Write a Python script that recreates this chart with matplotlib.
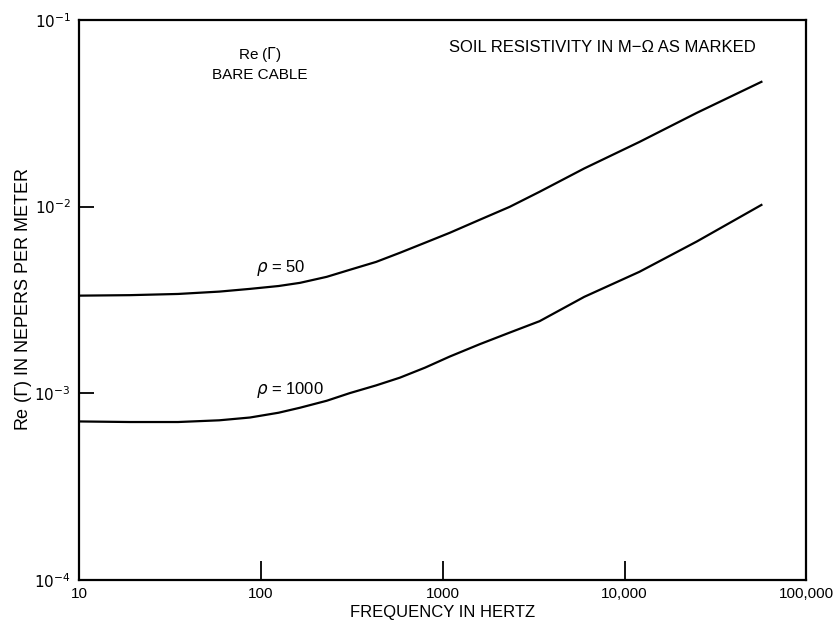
import matplotlib
matplotlib.use("Agg")
import matplotlib.pyplot as plt
from matplotlib.ticker import FixedLocator, FixedFormatter, NullLocator

plt.rcParams['font.family'] = ['Liberation Sans', 'DejaVu Sans']

# values
freq_50 = [10, 19, 35, 59, 87, 125, 164, 230, 308, 430, 581, 800, 1092,
           1600, 2333, 3410, 6000, 12080, 25000, 56600]
att_50 = [3.33e-3, 3.35e-3, 3.40e-3, 3.50e-3, 3.62e-3, 3.75e-3, 3.90e-3,
          4.20e-3, 4.58e-3, 5.05e-3, 5.65e-3, 6.40e-3, 7.23e-3,
          8.50e-3, 9.96e-3, 1.20e-2, 1.60e-2, 2.22e-2, 3.18e-2, 4.66e-2]

freq_1000 = [10, 19, 35, 59, 87, 125, 164, 230, 308, 430, 581, 800, 1092,
             1600, 2333, 3410, 6000, 12080, 25000, 56600]
att_1000 = [7.05e-4, 7.0e-4, 7.0e-4, 7.15e-4, 7.4e-4, 7.85e-4, 8.35e-4,
            9.1e-4, 1.00e-3, 1.10e-3, 1.21e-3, 1.37e-3, 1.57e-3,
            1.83e-3, 2.11e-3, 2.43e-3, 3.28e-3, 4.47e-3, 6.5e-3, 1.02e-2]

x_ticks = [10, 100, 1000, 10000, 100000]
x_labels = ["10", "100", "1000", "10,000", "100,000"]
y_ticks = [1e-4, 1e-3, 1e-2, 1e-1]
y_labels = ["$10^{-4}$", "$10^{-3}$", "$10^{-2}$", "$10^{-1}$"]

fig = plt.figure(figsize=(8.33, 6.24), dpi=100)
ax = fig.add_axes([0.095, 0.071, 0.873, 0.897])

ax.plot(freq_50, att_50, color='black', lw=1.6)
ax.plot(freq_1000, att_1000, color='black', lw=1.6)

ax.set_xscale('log')
ax.set_yscale('log')
ax.set_xlim(10, 100000)
ax.set_ylim(1e-4, 1e-1)

ax.xaxis.set_major_locator(FixedLocator(x_ticks))
ax.xaxis.set_major_formatter(FixedFormatter(x_labels))
ax.xaxis.set_minor_locator(NullLocator())
ax.yaxis.set_major_locator(FixedLocator(y_ticks))
ax.yaxis.set_major_formatter(FixedFormatter(y_labels))
ax.yaxis.set_minor_locator(NullLocator())
ax.tick_params(axis='x', direction='in', length=14, width=1.3, labelsize=11, pad=5)
ax.tick_params(axis='y', direction='in', length=11, width=1.3, labelsize=11, pad=6)

for s in ax.spines.values():
    s.set_linewidth(1.6)

ax.set_xlabel("FREQUENCY IN HERTZ", fontsize=12, labelpad=3)
ax.set_ylabel(r"Re ($\Gamma$) IN NEPERS PER METER", fontsize=13, labelpad=0)

ax.text(0.249, 0.9375, r"Re ($\Gamma$)", fontsize=11, ha='center', va='center',
        transform=ax.transAxes)
ax.text(0.249, 0.902, "BARE CABLE", fontsize=11, ha='center', va='center',
        transform=ax.transAxes)
ax.text(0.72, 0.95, "SOIL RESISTIVITY IN M\u2212\u03a9 AS MARKED", fontsize=12,
        ha='center', va='center', transform=ax.transAxes)
ax.text(0.243, 0.557, r"$\rho$ = 50", fontsize=12, ha='left', va='center',
        transform=ax.transAxes)
ax.text(0.243, 0.339, r"$\rho$ = 1000", fontsize=12, ha='left', va='center',
        transform=ax.transAxes)

fig.savefig("out.png", dpi=100)
